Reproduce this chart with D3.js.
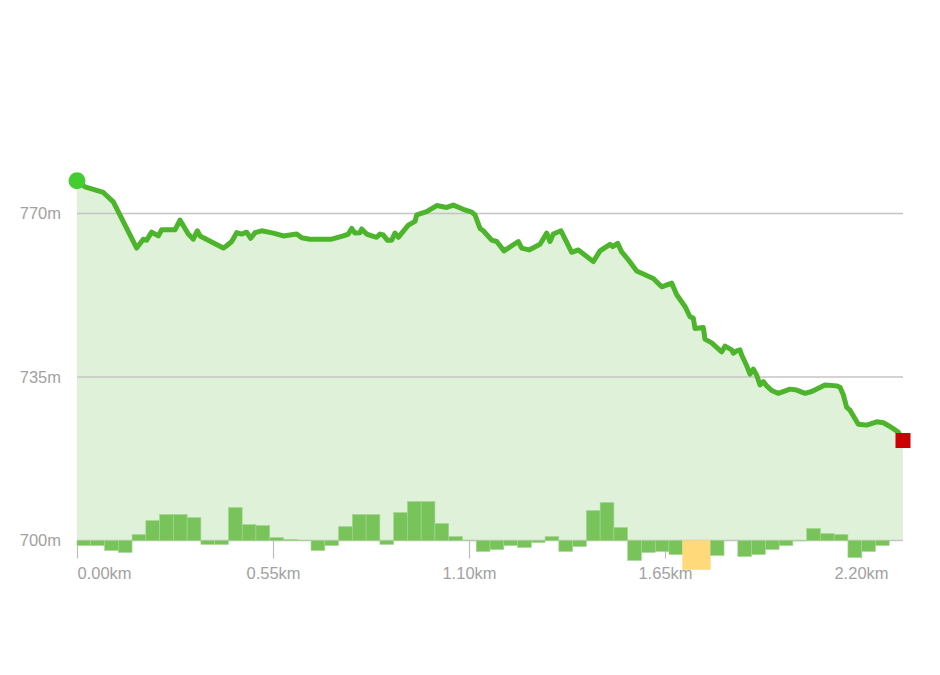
<!DOCTYPE html>
<html>
<head>
<meta charset="utf-8">
<script src="https://cdn.jsdelivr.net/npm/d3@7"></script>
<style>
  html, body { margin: 0; padding: 0; background: #ffffff; }
  svg { display: block; }
  text { font-family: "Liberation Sans", Arial, Helvetica, sans-serif; }
</style>
</head>
<body>
<svg id="chart" width="940" height="675"></svg>
<script>
// ---- data ----
const distanceKm = [0.0000,0.0224,0.0738,0.1019,0.1675,0.1860,0.1956,0.2096,0.2281,0.2377,0.2750,0.2890,0.3123,0.3264,0.3376,0.3452,0.4105,0.4201,0.4341,0.4481,0.4622,0.4762,0.4874,0.4995,0.5183,0.5508,0.5789,0.6165,0.6305,0.6538,0.7147,0.7473,0.7613,0.7708,0.7801,0.7941,0.7989,0.8129,0.8270,0.8410,0.8502,0.8595,0.8707,0.8831,0.8923,0.9016,0.9297,0.9485,0.9532,0.9813,1.0094,1.0374,1.0560,1.0840,1.1076,1.1168,1.1309,1.1401,1.1637,1.1777,1.1982,1.2384,1.2479,1.2684,1.2993,1.3181,1.3273,1.3366,1.3582,1.3882,1.4067,1.4488,1.4676,1.4957,1.5032,1.5173,1.5285,1.5470,1.5706,1.6172,1.6407,1.6688,1.6829,1.7061,1.7201,1.7294,1.7342,1.7575,1.7622,1.7810,1.8091,1.8184,1.8372,1.8417,1.8512,1.8605,1.8652,1.8793,1.8886,1.8978,1.9073,1.9166,1.9259,1.9354,1.9494,1.9680,2.0008,2.0196,2.0429,2.0617,2.0990,2.1318,2.1411,2.1504,2.1599,2.1692,2.1925,2.2161,2.2441,2.2626,2.2814,2.3047,2.3179];
const elevationM = [777.0,775.7,774.5,772.5,762.6,764.5,764.3,766.0,765.2,766.5,766.5,768.6,765.6,764.5,766.3,765.2,762.6,763.1,764.0,765.9,765.6,766.0,764.7,765.9,766.3,765.8,765.2,765.6,764.8,764.5,764.5,765.2,765.6,766.8,765.8,765.9,766.7,765.6,765.2,764.9,765.6,765.4,764.3,764.3,765.8,764.9,767.5,768.3,769.7,770.4,771.7,771.3,771.8,770.9,770.3,769.7,766.8,766.3,764.3,764.0,762.0,764.0,762.6,762.2,763.4,765.8,764.0,765.6,766.3,761.7,762.2,759.7,762.0,763.4,762.9,763.6,761.8,760.1,757.7,756.1,754.3,755.1,752.6,750.1,747.9,747.6,745.4,745.6,743.1,742.3,740.4,741.6,740.8,740.1,740.6,740.8,739.7,737.4,735.6,736.7,735.4,733.3,734.0,733.1,732.1,731.5,732.4,732.2,731.5,731.9,733.3,733.1,732.8,731.2,728.5,727.9,724.9,724.7,725.4,725.2,724.4,723.2,721.4];
// per-segment climb indicator (60 equal segments over the route)
const segmentClimb = [-5,-5,-10,-12,6,20,26,26,23,-4,-4,33,16,15,3,1,0.3,-10,-5,14,26,26,-4,28,39,39,17,4,0.3,-11,-9,-5,-7,-2,4,-11,-6,30,38,13,-20,-12,-11,-14,-29,-29,-15,0,-16,-14,-9,-5,-0.5,12,7,6,-17,-11,-5,0];
const yTicks = [700, 735, 770];
const xTicks = [0, 0.55, 1.10, 1.65, 2.20];

// ---- layout ----
const svg = d3.select("#chart");
const plotLeft = 77, plotRight = 903, plotTop = 213.5, plotBase = 540.5;
const totalKm = distanceKm[distanceKm.length - 1];

const x = d3.scaleLinear().domain([0, totalKm]).range([plotLeft, plotRight]);
const y = d3.scaleLinear().domain([700, 770]).range([plotBase, plotTop]);
const band = d3.scaleBand().domain(d3.range(segmentClimb.length)).range([plotLeft, plotRight]).padding(0);
const climbScale = d3.scaleLinear().domain([-40, 40]).range([plotBase + 40, plotBase - 40]);

const pts = distanceKm.map((d, i) => ({ d: d, e: elevationM[i] }));

// area
svg.append("path")
  .datum(pts)
  .attr("fill", "#dff1d8")
  .attr("d", d3.area().x(p => x(p.d)).y0(y(700)).y1(p => y(p.e)));

// grid lines
svg.append("g").selectAll("line").data(yTicks).join("line")
  .attr("x1", plotLeft).attr("x2", plotRight)
  .attr("y1", d => y(d)).attr("y2", d => y(d))
  .attr("stroke", "#c4c4c4").attr("stroke-width", 1.5);

// y labels
svg.append("g").selectAll("text").data(yTicks).join("text")
  .attr("x", 61).attr("y", d => y(d))
  .attr("dy", "0.36em")
  .attr("text-anchor", "end")
  .attr("font-size", 16.5)
  .attr("fill", "#a2a2a2")
  .text(d => d + "m");

// x axis via d3.axisBottom
const xAxis = d3.axisBottom(x).tickValues(xTicks).tickSize(18).tickPadding(9)
  .tickFormat(d => d3.format(".2f")(d) + "km");
const gx = svg.append("g").attr("transform", `translate(0,${plotBase})`).call(xAxis);
gx.select(".domain").remove();
gx.selectAll(".tick line").attr("stroke", "#bdbdbd").attr("stroke-width", 1.2);
gx.selectAll(".tick text").attr("font-size", 16.5).attr("fill", "#a2a2a2")
  .attr("font-family", "'Liberation Sans', Arial, sans-serif")
  .attr("text-anchor", d => d === 0 ? "start" : "middle");

// bars
const steep = d => d <= -25;
svg.append("g").selectAll("rect").data(segmentClimb).join("rect")
  .attr("x", (d, i) => band(i))
  .attr("width", band.bandwidth() + (steep(segmentClimb[0]) ? 0 : 0))
  .attr("y", d => Math.min(climbScale(d), climbScale(0)))
  .attr("height", d => Math.abs(climbScale(d) - climbScale(0)))
  .attr("fill", d => steep(d) ? "#ffd97a" : "#78c45a")
  .attr("stroke", d => steep(d) ? "#ffd97a" : "#a6d893")
  .attr("stroke-width", 0.6);

// elevation line
svg.append("path")
  .datum(pts)
  .attr("fill", "none")
  .attr("stroke", "#4cb52b")
  .attr("stroke-width", 5)
  .attr("stroke-linejoin", "round")
  .attr("stroke-linecap", "round")
  .attr("d", d3.line().x(p => x(p.d)).y(p => y(p.e)));

// start marker
svg.append("circle")
  .attr("cx", x(pts[0].d)).attr("cy", y(pts[0].e))
  .attr("r", 8.5).attr("fill", "#44cc33");

// end marker
const last = pts[pts.length - 1];
svg.append("rect")
  .attr("x", x(last.d) - 7.5).attr("y", y(last.e) - 7.5)
  .attr("width", 15).attr("height", 15)
  .attr("fill", "#cc0000");
</script>
</body>
</html>
